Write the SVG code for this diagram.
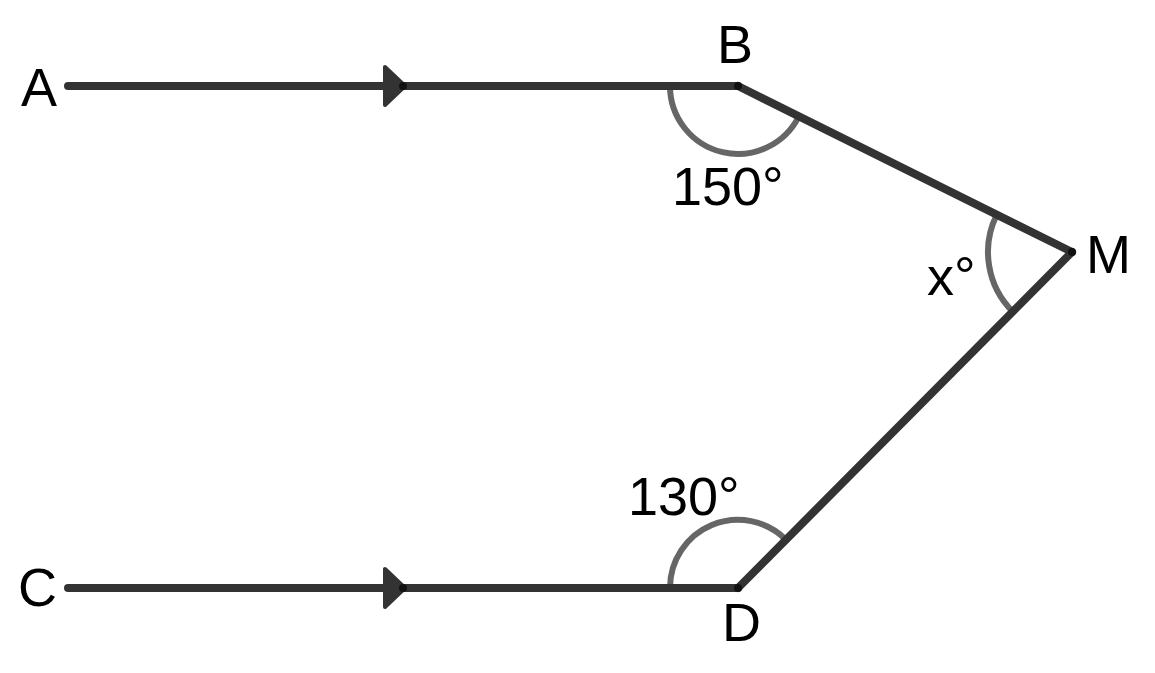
<svg xmlns="http://www.w3.org/2000/svg" width="1155" height="673" viewBox="0 0 1155 673">
<style>
.ln{stroke:#333;stroke-width:8;stroke-linecap:round;stroke-linejoin:round;fill:none}
.arc{stroke:#666;stroke-width:6;fill:none}
.lbl{font-family:"Liberation Sans",Arial,sans-serif;font-size:54px;fill:#000}
.ah{fill:#333;stroke:#333;stroke-width:4;stroke-linejoin:round}
</style>
<rect width="1155" height="673" fill="#fff"/>
<g id="arcs">
<path class="arc" d="M670,86 A68,68 0 0 0 799,116"/>
<path class="arc" d="M996.8,214.6 A84,84 0 0 0 1012.8,311.6"/>
<path class="arc" d="M670,588 A68,68 0 0 1 786,539.7"/>
</g>
<g id="connectors">
<line class="ln" x1="68" y1="86" x2="738" y2="86"/>
<line class="ln" x1="738" y1="86" x2="1072" y2="252"/>
<line class="ln" x1="1072" y1="252" x2="738" y2="588"/>
<line class="ln" x1="68" y1="588" x2="738" y2="588"/>
<polygon class="ah" points="385,67 385,105 405,86"/>
<circle cx="403" cy="86" r="4" fill="#111"/>
<polygon class="ah" points="385,569 385,607 405,588"/>
<circle cx="403" cy="588" r="4" fill="#111"/>
<circle cx="738" cy="86" r="4" fill="#111"/>
<circle cx="1072" cy="252" r="4" fill="#111"/>
<circle cx="738" cy="588" r="4" fill="#111"/>
</g>
<g id="A"><text class="lbl" x="21" y="106">A</text></g>
<g id="B"><text class="lbl" x="717" y="63">B</text></g>
<g id="M"><text class="lbl" x="1086" y="273">M</text></g>
<g id="C"><text class="lbl" x="18" y="606">C</text></g>
<g id="D"><text class="lbl" x="722" y="641">D</text></g>
<g id="ang150"><text class="lbl" x="672" y="205">150°</text></g>
<g id="angx"><text class="lbl" x="927" y="295">x°</text></g>
<g id="ang130"><text class="lbl" x="628" y="515">130°</text></g>
</svg>
